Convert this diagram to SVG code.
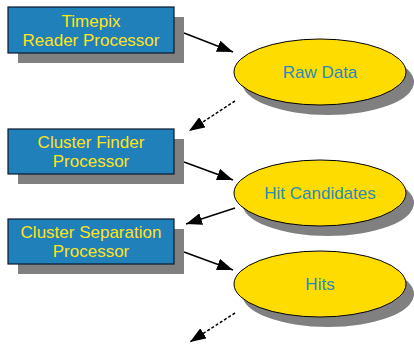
<svg xmlns="http://www.w3.org/2000/svg" width="414" height="345" viewBox="0 0 414 345">
<defs>
<marker id="ah" viewBox="0 0 16 12" refX="16" refY="6" markerWidth="16" markerHeight="12" markerUnits="userSpaceOnUse" orient="auto">
<path d="M0,0 L16,6 L0,12 Z" fill="#000"/>
</marker>
</defs>
<style>
.shadow{fill:#808080}
.box{fill:#1f80ba;stroke:#0a1a2a;stroke-width:1.2}
.ell{fill:#ffdc00;stroke:#000;stroke-width:1}
.bt{font-family:"Liberation Sans",Arial,sans-serif;font-size:17px;fill:#ffe31a;text-anchor:middle}
.et{font-family:"Liberation Sans",Arial,sans-serif;font-size:17px;fill:#2a8bbd;text-anchor:middle}
.c{stroke:#000;stroke-width:1.5;fill:none;marker-end:url(#ah)}
.d{stroke-dasharray:3,2}
</style>
<g id="connectors">
<line class="c" x1="184" y1="33" x2="233" y2="52"/>
<line class="c d" x1="235" y1="101" x2="189" y2="131"/>
<line class="c" x1="184" y1="162" x2="233" y2="180"/>
<line class="c" x1="235" y1="208" x2="186" y2="224"/>
<line class="c" x1="184" y1="252" x2="233" y2="270"/>
<line class="c d" x1="235" y1="313" x2="190" y2="342"/>
</g>
<g id="timepix-reader">
<rect class="shadow" x="18" y="17" width="166" height="46"/>
<rect class="box" x="8" y="7" width="166" height="46"/>
<text class="bt" x="91" y="27">Timepix</text>
<text class="bt" x="91" y="46">Reader Processor</text>
</g>
<g id="raw-data">
<ellipse class="shadow" cx="328" cy="82" rx="86" ry="33"/>
<ellipse class="ell" cx="320" cy="72" rx="86" ry="33"/>
<text class="et" x="320" y="78">Raw Data</text>
</g>
<g id="cluster-finder">
<rect class="shadow" x="18" y="139" width="166" height="45"/>
<rect class="box" x="8" y="129" width="166" height="45"/>
<text class="bt" x="91" y="148">Cluster Finder</text>
<text class="bt" x="91" y="167">Processor</text>
</g>
<g id="hit-candidates">
<ellipse class="shadow" cx="328" cy="203" rx="86" ry="33"/>
<ellipse class="ell" cx="320" cy="193" rx="86" ry="33"/>
<text class="et" x="320" y="199">Hit Candidates</text>
</g>
<g id="cluster-separation">
<rect class="shadow" x="18" y="229" width="166" height="45"/>
<rect class="box" x="8" y="219" width="166" height="45"/>
<text class="bt" x="91" y="238">Cluster Separation</text>
<text class="bt" x="91" y="257">Processor</text>
</g>
<g id="hits">
<ellipse class="shadow" cx="328" cy="294" rx="86" ry="33"/>
<ellipse class="ell" cx="320" cy="284" rx="86" ry="33"/>
<text class="et" x="320" y="290">Hits</text>
</g>
</svg>
